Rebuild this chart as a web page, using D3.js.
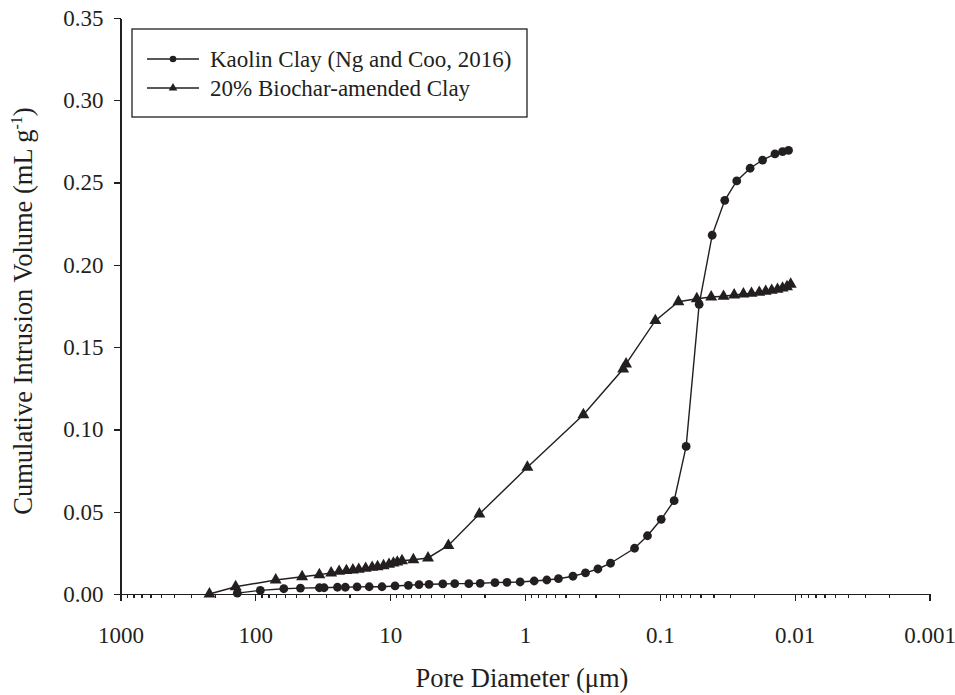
<!DOCTYPE html>
<head>
    <meta charset="utf-8">
    <script src="https://d3js.org/d3.v7.min.js"></script>
    <style>
        body {
            margin: 0;
            background-color: #fff;
        }

        text {
            font-family: "Liberation Serif", "Times New Roman", serif;
            fill: #231f20;
        }

        .axis path,
        .axis line {
            stroke: #231f20;
            stroke-width: 1.3px;
            shape-rendering: crispEdges;
        }

        .axis text {
            font-size: 23px;
        }

        .series {
            fill: none;
            stroke: #231f20;
            stroke-width: 1.4px;
        }

        .dot {
            fill: #231f20;
        }

        .legend rect {
            fill: none;
            stroke: #231f20;
            stroke-width: 1.3px;
        }

        .legend text {
            font-size: 23px;
        }
    </style>
</head>

<body>
    <script>
        var width = 955,
            height = 695;

        // pore diameter (um) / cumulative intrusion volume (mL/g)
        var kaolinDiameter = [136, 91.8, 61.5, 46.3, 33.5, 30.9, 24.6, 21.5, 17.6, 14.3, 11.5, 9.2, 7.33, 6.11, 5.15,
            4.07, 3.32, 2.61, 2.15, 1.67, 1.36, 1.087, 0.855, 0.689, 0.565, 0.441, 0.356, 0.288, 0.232, 0.154,
            0.1235, 0.0977, 0.0783, 0.0638, 0.0511, 0.0409, 0.033, 0.0269, 0.0214, 0.0173, 0.014, 0.0123, 0.0111];
        var kaolinVolume = [0.0005, 0.0022, 0.0032, 0.0036, 0.0038, 0.0038, 0.0041, 0.0041, 0.0043, 0.0044, 0.0044, 0.0049, 0.0053, 0.0057, 0.0059,
            0.0061, 0.0063, 0.0063, 0.0065, 0.0069, 0.0071, 0.0073, 0.0079, 0.0085, 0.0093, 0.0108, 0.0128, 0.0152, 0.0187, 0.0278,
            0.0354, 0.0454, 0.0567, 0.0897, 0.176, 0.218, 0.2392, 0.251, 0.2587, 0.2637, 0.2674, 0.2688, 0.2696];

        var biocharDiameter = [219, 140, 70.6, 45, 33.5, 27.4, 23.9, 21.1, 18.9, 17.1, 15.2, 13.6, 12.4, 11.2, 10.2,
            9.46, 8.85, 8.17, 6.73, 5.24, 3.7, 2.18, 0.96, 0.369, 0.187, 0.178, 0.108, 0.0728, 0.0532, 0.0416,
            0.0337, 0.0281, 0.024, 0.0209, 0.0183, 0.0164, 0.0148, 0.0134, 0.0123, 0.0114, 0.0107];
        var biocharVolume = [0.0, 0.0044, 0.0085, 0.0105, 0.0117, 0.0128, 0.0138, 0.0142, 0.0146, 0.015, 0.0156, 0.0162, 0.0166, 0.0172, 0.018,
            0.0188, 0.0194, 0.0202, 0.0208, 0.0219, 0.0295, 0.0486, 0.077, 0.1089, 0.1367, 0.1398, 0.1661, 0.1776, 0.1794, 0.1805,
            0.1809, 0.1817, 0.1823, 0.1827, 0.1833, 0.1839, 0.1845, 0.1851, 0.1859, 0.1867, 0.1882];

        var xMajor = [1000, 100, 10, 1, 0.1, 0.01, 0.001];
        var xLabels = ["1000", "100", "10", "1", "0.1", "0.01", "0.001"];
        var yTicks = [0, 0.05, 0.10, 0.15, 0.20, 0.25, 0.30, 0.35];
        var seriesNames = ["Kaolin Clay (Ng and Coo, 2016)", "20% Biochar-amended Clay"];

        var kaolin = kaolinDiameter.map(function(d, i) { return [d, kaolinVolume[i]]; });
        var biochar = biocharDiameter.map(function(d, i) { return [d, biocharVolume[i]]; });

        var x = d3.scaleLog()
            .domain([1000, 0.001])
            .range([120.5, 929.5]);

        var y = d3.scaleLinear()
            .domain([0, 0.35])
            .range([594, 18]);

        var svg = d3.select("body").append("svg")
            .attr("width", width)
            .attr("height", height);

        // minor ticks 2..9 in each decade
        var xMinor = [];
        xMajor.slice(1).forEach(function(p) {
            for (var k = 2; k <= 9; k++) xMinor.push(p * k);
        });

        svg.append("g")
            .attr("class", "axis")
            .attr("transform", "translate(0," + y(0) + ")")
            .call(d3.axisBottom(x).tickValues(xMinor).tickSize(4).tickSizeOuter(0).tickFormat(""));

        svg.append("g")
            .attr("class", "axis")
            .attr("transform", "translate(0," + y(0) + ")")
            .call(d3.axisBottom(x).tickValues(xMajor).tickSize(7).tickSizeOuter(0).tickPadding(26)
                .tickFormat(function(d, i) { return xLabels[i]; }));

        svg.append("g")
            .attr("class", "axis")
            .attr("transform", "translate(" + x(1000) + ",0)")
            .call(d3.axisLeft(y).tickValues(yTicks).tickSize(7).tickSizeOuter(0).tickPadding(10)
                .tickFormat(d3.format(".2f")));

        // axis titles
        svg.append("text")
            .attr("x", 522)
            .attr("y", 687)
            .attr("text-anchor", "middle")
            .style("font-size", "26.5px")
            .text("Pore Diameter (\u03bcm)");

        var yTitle = svg.append("text")
            .attr("transform", "translate(32,311) rotate(-90)")
            .attr("text-anchor", "middle")
            .style("font-size", "26.5px");
        yTitle.append("tspan").text("Cumulative Intrusion Volume (mL g");
        yTitle.append("tspan").attr("dy", -10).style("font-size", "16px").text("-1");
        yTitle.append("tspan").attr("dy", 10).text(")");

        var line = d3.line()
            .x(function(d) { return x(d[0]); })
            .y(function(d) { return y(d[1]); });

        var triangle = d3.symbol().type(d3.symbolTriangle).size(62);
        var triangleSmall = d3.symbol().type(d3.symbolTriangle).size(32);

        svg.append("path")
            .datum(kaolin)
            .attr("class", "series")
            .attr("d", line);

        svg.append("path")
            .datum(biochar)
            .attr("class", "series")
            .attr("d", line);

        svg.append("g")
            .selectAll("circle")
            .data(kaolin)
            .enter().append("circle")
            .attr("class", "dot")
            .attr("cx", function(d) { return x(d[0]); })
            .attr("cy", function(d) { return y(d[1]); })
            .attr("r", 4.4);

        svg.append("g")
            .selectAll("path")
            .data(biochar)
            .enter().append("path")
            .attr("class", "dot")
            .attr("transform", function(d) { return "translate(" + x(d[0]) + "," + y(d[1]) + ")"; })
            .attr("d", triangle);

        // legend
        var legend = svg.append("g")
            .attr("class", "legend");

        legend.append("rect")
            .attr("x", 132)
            .attr("y", 29)
            .attr("width", 395)
            .attr("height", 88);

        legend.selectAll("g.item")
            .data(seriesNames)
            .enter().append("g")
            .attr("class", "item")
            .attr("transform", function(d, i) { return "translate(0," + (59 + i * 29) + ")"; })
            .each(function(d, i) {
                var g = d3.select(this);
                g.append("line")
                    .attr("x1", 147).attr("x2", 199)
                    .attr("y1", 0).attr("y2", 0)
                    .attr("stroke", "#231f20")
                    .attr("stroke-width", 1.4);
                if (i === 0) {
                    g.append("circle").attr("class", "dot").attr("cx", 173).attr("cy", 0).attr("r", 3.3);
                } else {
                    g.append("path").attr("class", "dot").attr("transform", "translate(173,0)").attr("d", triangleSmall);
                }
                g.append("text")
                    .attr("x", 210)
                    .attr("y", 8)
                    .text(d);
            });
    </script>
</body>
